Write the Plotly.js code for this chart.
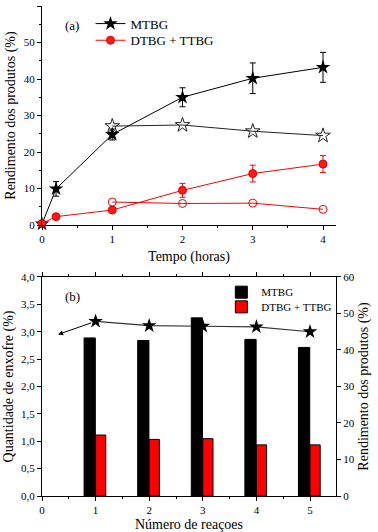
<!DOCTYPE html>
<html><head><meta charset="utf-8">
<script src="https://cdn.plot.ly/plotly-3.0.1.min.js"></script>
<style>html,body{margin:0;padding:0;background:#fff}#c{width:378px;height:532px}</style>
</head><body><div id="c"></div>
<script>
// Panel (a)
const timeFilled = [0, 0.2, 1, 2, 3, 4];
const mtbgFilled = [0.3, 9.9, 24.8, 35.0, 40.2, 43.2];
const mtbgErr = [0, 2.0, 1.5, 2.6, 4.2, 4.1];
const dtbgFilled = [0.4, 2.3, 4.1, 9.5, 14.1, 16.7];
const dtbgErr = [0, 0, 0, 1.9, 2.3, 2.3];
const timeOpen = [1, 2, 3, 4];
const mtbgOpen = [27.1, 27.4, 25.7, 24.5];
const dtbgOpen = [6.3, 5.9, 6.0, 4.3];
// Panel (b)
const reactions = [1, 2, 3, 4, 5];
const sulfur = [3.19, 3.11, 3.10, 3.09, 3.00];
const mtbgBars = [43.3, 42.6, 48.8, 42.9, 40.7];
const dtbgBars = [16.7, 15.5, 15.7, 14.0, 14.0];

const F = 'Liberation Serif';
const tickFont = {family: F, size: 11, color: '#000'};
const titleFont = {family: F, size: 14, color: '#000'};

const traces = [
  {x: timeOpen, y: mtbgOpen, mode: 'lines+markers', showlegend: false,
   line: {color: '#222', width: 1}, marker: {symbol: 'star-open', size: 11, color: '#222', line: {width: 1}},
   xaxis: 'x', yaxis: 'y', cliponaxis: false},
  {x: timeOpen, y: dtbgOpen, mode: 'lines+markers', showlegend: false,
   line: {color: '#ff0000', width: 1}, marker: {symbol: 'circle-open', size: 8, color: '#ff0000', line: {width: 1}},
   xaxis: 'x', yaxis: 'y', cliponaxis: false},
  {x: timeFilled, y: mtbgFilled, name: 'MTBG', mode: 'lines+markers', legend: 'legend',
   error_y: {type: 'data', array: mtbgErr, color: '#000', thickness: 1, width: 3},
   line: {color: '#000', width: 1}, marker: {symbol: 'star', size: 11, color: '#000'},
   xaxis: 'x', yaxis: 'y', cliponaxis: false},
  {x: timeFilled, y: dtbgFilled, name: 'DTBG + TTBG', mode: 'lines+markers', legend: 'legend3',
   error_y: {type: 'data', array: dtbgErr, color: '#ff0000', thickness: 1, width: 3},
   line: {color: '#ff0000', width: 1}, marker: {symbol: 'circle', size: 8, color: '#ff1a1a', line: {color: '#e00000', width: 1}},
   xaxis: 'x', yaxis: 'y', cliponaxis: false},
  {x: reactions, y: mtbgBars, name: 'MTBG', type: 'bar', legend: 'legend2',
   marker: {color: '#000', line: {color: '#000', width: 1}}, width: 0.21, offset: -0.215,
   xaxis: 'x2', yaxis: 'y3'},
  {x: reactions, y: dtbgBars, name: 'DTBG + TTBG', type: 'bar', legend: 'legend4',
   marker: {color: '#ff0000', line: {color: '#000', width: 1}}, width: 0.19, offset: 0,
   xaxis: 'x2', yaxis: 'y3'},
  {x: reactions, y: sulfur, mode: 'lines+markers', showlegend: false,
   line: {color: '#333', width: 1.2}, marker: {symbol: 'star', size: 11, color: '#000'},
   xaxis: 'x2', yaxis: 'y2', cliponaxis: false}
];

const baseAx = {showline: true, linecolor: '#000', linewidth: 1, ticks: 'outside', ticklen: 4,
  tickcolor: '#000', tickfont: tickFont, zeroline: false, showgrid: false};

const legA = {font: {family: F, size: 13, color: '#000'}, bgcolor: 'rgba(0,0,0,0)', xanchor: 'left', yanchor: 'middle'};
const legB = {font: {family: F, size: 11, color: '#000'}, bgcolor: 'rgba(0,0,0,0)', xanchor: 'left', yanchor: 'middle'};

const layout = {
  width: 378, height: 532, margin: {l: 42, r: 42, t: 6, b: 36},
  paper_bgcolor: '#fff', plot_bgcolor: 'rgba(0,0,0,0)', separators: ',.',
  font: {family: F, color: '#000'},
  xaxis: Object.assign({}, baseAx, {domain: [0, 1], anchor: 'y', range: [0, 4.185], dtick: 1, tick0: 0,
    minor: {dtick: 0.5, ticks: 'outside', ticklen: 2, tickcolor: '#000'},
    title: {text: 'Tempo (horas)', font: titleFont, standoff: 6}}),
  xaxis3: Object.assign({}, baseAx, {overlaying: 'x', anchor: 'y', side: 'top', range: [0, 4.185], dtick: 0.5,
    ticks: 'inside', ticklen: 3, showticklabels: false}),
  yaxis: Object.assign({}, baseAx, {domain: [0.553, 1], anchor: 'x', range: [0, 60], dtick: 10,
    minor: {dtick: 5, ticks: 'outside', ticklen: 2, tickcolor: '#000'},
    title: {text: 'Rendimento dos produtos (%)', font: titleFont, standoff: 4}}),
  yaxis4: Object.assign({}, baseAx, {overlaying: 'y', anchor: 'x', side: 'right', range: [0, 60], dtick: 12,
    ticks: 'inside', ticklen: 4, showticklabels: false,
    minor: {dtick: 6, ticks: 'inside', ticklen: 2, tickcolor: '#000'}}),
  xaxis2: Object.assign({}, baseAx, {domain: [0, 1], anchor: 'y2', range: [0, 5.485], dtick: 1, tick0: 0,
    mirror: 'ticks',
    minor: {dtick: 0.5, ticks: 'outside', ticklen: 2, tickcolor: '#000'},
    title: {text: 'Número de reaçoes', font: titleFont, standoff: 6}}),
  yaxis2: Object.assign({}, baseAx, {domain: [0, 0.447], anchor: 'x2', range: [0, 4], dtick: 0.5,
    tickformat: '.1f',
    title: {text: 'Quantidade de enxofre (%)', font: titleFont, standoff: 4}}),
  yaxis3: Object.assign({}, baseAx, {overlaying: 'y2', anchor: 'x2', side: 'right', range: [0, 60], dtick: 10,
    title: {text: 'Rendimento dos produtos (%)', font: titleFont, standoff: 4}}),
  legend: Object.assign({x: 0.165, y: 0.964}, legA),
  legend3: Object.assign({x: 0.165, y: 0.93}, legA),
  legend2: Object.assign({x: 0.61, y: 0.416}, legB),
  legend4: Object.assign({x: 0.61, y: 0.386}, legB),
  annotations: [
    {xref: 'paper', yref: 'paper', x: 0.07, y: 0.961, yanchor: 'middle', text: '(a)', showarrow: false,
     font: {family: F, size: 13, color: '#000'}, xanchor: 'left'},
    {xref: 'paper', yref: 'paper', x: 0.07, y: 0.408, yanchor: 'middle', text: '(b)', showarrow: false,
     font: {family: F, size: 13, color: '#000'}, xanchor: 'left'},
    {xref: 'x2', yref: 'y2', x: 0.3, y: 2.95, ax: reactions[0], ay: sulfur[0], axref: 'x2', ayref: 'y2',
     showarrow: true, arrowhead: 2, arrowsize: 1, arrowwidth: 1, arrowcolor: '#000', text: '', standoff: 0, startstandoff: 3}
  ],
  showlegend: true
};

Plotly.newPlot('c', traces, layout, {staticPlot: true, displayModeBar: false});
</script></body></html>
